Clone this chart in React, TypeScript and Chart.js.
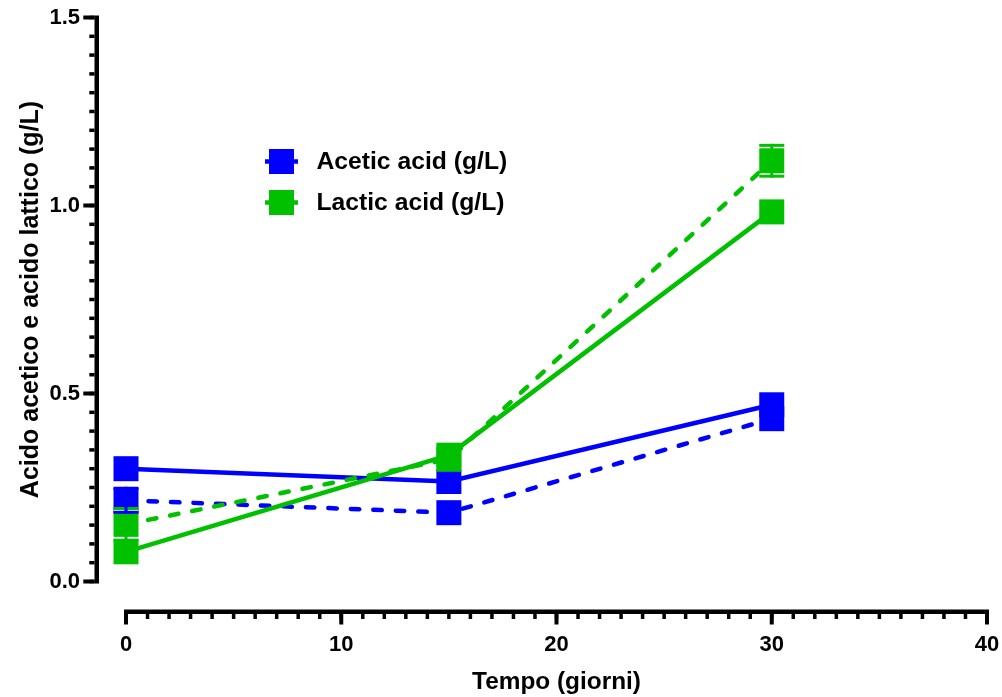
import React, { useEffect, useRef } from "react";
import { Chart, registerables } from "chart.js";

Chart.register(...registerables);

// Sampling days
const days = [0, 15, 30];

// Acetic acid (g/L): two replicates drawn solid / dashed, with SD
const aceticSolid = [0.3, 0.266, 0.47];
const aceticSolidSd = [0, 0, 0];
const aceticDashed = [0.216, 0.183, 0.433];
const aceticDashedSd = [0.032, 0, 0];

// Lactic acid (g/L)
const lacticSolid = [0.079, 0.336, 0.983];
const lacticSolidSd = [0, 0, 0];
const lacticDashed = [0.152, 0.325, 1.119];
const lacticDashedSd = [0.042, 0, 0.041];

// Axis ticks
const xTicks = [0, 10, 20, 30, 40];
const xMinorStep = 1;
const yTicks = [0, 0.5, 1.0, 1.5];
const yMinorStep = 0.05;

const legendLabels = ["Acetic acid (g/L)", "Lactic acid (g/L)"];
const xTitle = "Tempo (giorni)";
const yTitle = "Acido acetico e acido lattico (g/L)";

const BLUE = "#0000FF";
const GREEN = "#00C000";
const FONT = '"Liberation Sans", Arial, Helvetica, sans-serif';
const MARKER = 25; // square symbol side

function series(label: string, values: number[], sd: number[], color: string, dashed: boolean) {
  return {
    label,
    data: days.map((d, i) => ({ x: d, y: values[i] })),
    sd,
    borderColor: color,
    backgroundColor: color,
    borderWidth: 4.5,
    borderDash: dashed ? [8.5, 14] : [],
    borderCapStyle: dashed ? "round" : "butt",
    pointStyle: "rect",
    pointRadius: MARKER / 2 / Math.SQRT1_2,
    pointHoverRadius: MARKER / 2 / Math.SQRT1_2,
    pointBorderWidth: 0,
    pointBackgroundColor: color,
    tension: 0,
    clip: false,
  };
}

// Scale boxes keep a fixed size and add no automatic padding
function fixBox(size: { width?: number; height?: number }) {
  return (s: any) => {
    if (size.width !== undefined) s.width = size.width;
    if (size.height !== undefined) s.height = size.height;
    s.paddingLeft = 0;
    s.paddingRight = 0;
    s.paddingTop = 0;
    s.paddingBottom = 0;
  };
}

// Prism-style detached axes with major + minor ticks
const axesPlugin = {
  id: "detachedAxes",
  afterDraw(chart: any) {
    const { ctx, scales, chartArea } = chart;
    const x = scales.x;
    const y = scales.y;
    ctx.save();
    ctx.fillStyle = "#000";

    // Y axis
    const yLineX = chartArea.left - 31.5;
    const yTop = y.getPixelForValue(yTicks[yTicks.length - 1]);
    const yBot = y.getPixelForValue(yTicks[0]);
    ctx.fillRect(yLineX, yTop - 2, 4.5, yBot - yTop + 4);
    for (let v = yTicks[0]; v <= yTicks[yTicks.length - 1] + 1e-9; v += yMinorStep) {
      const p = y.getPixelForValue(v);
      ctx.fillRect(yLineX - 5.2, p - 1.75, 5.2, 3.5);
    }
    yTicks.forEach((v) => {
      const p = y.getPixelForValue(v);
      ctx.fillRect(yLineX - 11.2, p - 2, 11.2, 4);
    });

    // X axis
    const xLineY = chartArea.bottom + 28;
    const xL = x.getPixelForValue(xTicks[0]);
    const xR = x.getPixelForValue(xTicks[xTicks.length - 1]);
    ctx.fillRect(xL - 2, xLineY, xR - xL + 4, 4.5);
    for (let v = xTicks[0]; v <= xTicks[xTicks.length - 1] + 1e-9; v += xMinorStep) {
      const p = x.getPixelForValue(v);
      ctx.fillRect(p - 1.75, xLineY + 4.5, 3.5, 5);
    }
    xTicks.forEach((v) => {
      const p = x.getPixelForValue(v);
      ctx.fillRect(p - 2, xLineY + 4.5, 4, 10.5);
    });
    ctx.restore();
  },
};

// Vertical SD error bars with caps the width of the symbol
const errorBarPlugin = {
  id: "errorBars",
  afterDatasetsDraw(chart: any) {
    const { ctx, scales } = chart;
    const y = scales.y;
    ctx.save();
    chart.data.datasets.forEach((ds: any, i: number) => {
      const meta = chart.getDatasetMeta(i);
      ds.data.forEach((pt: any, j: number) => {
        const sd = ds.sd[j];
        if (!sd) return;
        const el = meta.data[j];
        const cx = el.x;
        const cy = el.y;
        const top = y.getPixelForValue(pt.y + sd);
        const bot = y.getPixelForValue(pt.y - sd);
        const half = MARKER / 2;
        if (cy - top > half + 1) {
          ctx.fillStyle = "#fff";
          ctx.fillRect(cx - half, top + 1.5, MARKER, 1);
        }
        if (bot - cy > half + 1) {
          ctx.fillStyle = "#fff";
          ctx.fillRect(cx - half, bot - 2.5, MARKER, 1);
        }
        ctx.fillStyle = ds.borderColor;
        ctx.fillRect(cx - half, top - 1.5, MARKER, 3);
        ctx.fillRect(cx - half, bot - 1.5, MARKER, 3);
        ctx.fillRect(cx - 1.5, top - 1.5, 3, bot - top + 3);
      });
    });
    ctx.restore();
  },
};

// Legend drawn inside the plot area
const legendPlugin = {
  id: "insideLegend",
  afterDraw(chart: any) {
    const { ctx } = chart;
    const colors = [BLUE, GREEN];
    const cx = 281.5;
    const rows = [161.5, 202.5];
    ctx.save();
    ctx.font = `bold 24.7px ${FONT}`;
    ctx.textBaseline = "middle";
    ctx.textAlign = "left";
    legendLabels.forEach((text, i) => {
      const cy = rows[i];
      ctx.fillStyle = colors[i];
      ctx.fillRect(cx - 16.5, cy - 2.25, 33, 4.5);
      ctx.fillRect(cx - MARKER / 2, cy - MARKER / 2, MARKER, MARKER);
      ctx.fillStyle = "#000";
      ctx.fillText(text, 316.5, cy + 1);
    });
    ctx.restore();
  },
};

export default function App() {
  const canvasRef = useRef<HTMLCanvasElement | null>(null);

  useEffect(() => {
    document.body.style.margin = "0";
    const canvas = canvasRef.current;
    if (!canvas) return;
    Chart.defaults.font.family = FONT;
    Chart.defaults.color = "#000";

    const chart = new Chart(canvas, {
      type: "line",
      data: {
        datasets: [
          series("Lactic acid (g/L)", lacticDashed, lacticDashedSd, GREEN, true),
          series("Lactic acid (g/L)", lacticSolid, lacticSolidSd, GREEN, false),
          series("Acetic acid (g/L)", aceticDashed, aceticDashedSd, BLUE, true),
          series("Acetic acid (g/L)", aceticSolid, aceticSolidSd, BLUE, false),
        ] as any,
      },
      options: {
        responsive: false,
        animation: false,
        events: [],
        layout: { autoPadding: false, padding: { top: 17.5, right: 15, left: 0, bottom: 0 } },
        plugins: {
          legend: { display: false },
          tooltip: { enabled: false },
        },
        scales: {
          x: {
            type: "linear",
            min: xTicks[0],
            max: xTicks[xTicks.length - 1],
            grid: { display: false, drawTicks: false },
            border: { display: false },
            afterBuildTicks: (s: any) => {
              s.ticks = xTicks.map((v) => ({ value: v }));
            },
            afterFit: fixBox({ height: 115.5 }),
            ticks: {
              padding: 50,
              font: { size: 22, weight: "bold" },
              color: "#000",
              maxRotation: 0,
              callback: (v: any) => String(v),
            },
            title: {
              display: true,
              text: xTitle,
              font: { size: 24.4, weight: "bold" },
              color: "#000",
              padding: { top: 0, bottom: 0 },
            },
          },
          y: {
            type: "linear",
            min: yTicks[0],
            max: yTicks[yTicks.length - 1],
            grid: { display: false, drawTicks: false },
            border: { display: false },
            afterBuildTicks: (s: any) => {
              s.ticks = yTicks.map((v) => ({ value: v }));
            },
            afterFit: fixBox({ width: 126 }),
            ticks: {
              padding: 46,
              font: { size: 22, weight: "bold" },
              color: "#000",
              callback: (v: any) => Number(v).toFixed(1),
            },
            title: {
              display: true,
              text: yTitle,
              font: { size: 25, weight: "bold" },
              color: "#000",
              padding: { top: 16, bottom: 0 },
            },
          },
        },
      } as any,
      plugins: [axesPlugin, errorBarPlugin, legendPlugin],
    });
    return () => chart.destroy();
  }, []);

  return (
    <div style={{ position: "absolute", left: 0, top: 0, width: 1002, height: 697, background: "#fff" }}>
      <canvas ref={canvasRef} width={1002} height={697} style={{ display: "block" }} />
    </div>
  );
}
